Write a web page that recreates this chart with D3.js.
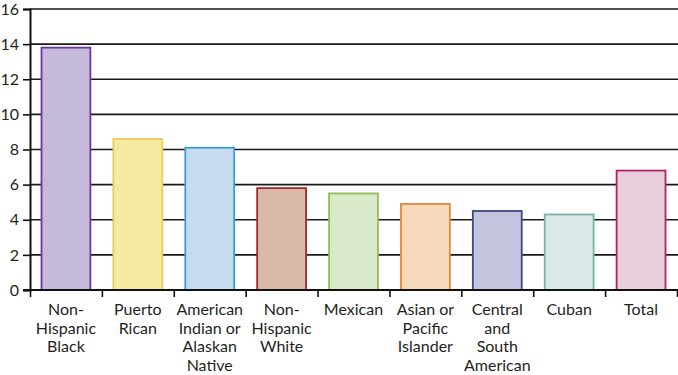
<!DOCTYPE html>
<html>
<head>
<meta charset="utf-8">
<script src="https://cdn.jsdelivr.net/npm/d3@7"></script>
<style>
  body { margin: 0; background: #fff; }
  text { font-family: Lato, "Liberation Sans", sans-serif; fill: #231f20; }
</style>
</head>
<body>
<div id="chart"></div>
<script>
// chart data
var categories = [
    "Non-\nHispanic\nBlack",
    "Puerto\nRican",
    "American\nIndian or\nAlaskan\nNative",
    "Non-\nHispanic\nWhite",
    "Mexican",
    "Asian or\nPacific\nIslander",
    "Central\nand\nSouth\nAmerican",
    "Cuban",
    "Total"
];
var values = [13.8, 8.6, 8.1, 5.8, 5.5, 4.9, 4.5, 4.3, 6.8];
var yTicks = [0, 2, 4, 6, 8, 10, 12, 14, 16];
var fills = ["#c5bad9", "#f5eaa2", "#c6daf0", "#d9b9a7", "#dbe9cb", "#f6d9bb", "#c5c4de", "#d8e9e8", "#e6cfda"];
var strokes = ["#7034a0", "#e9cd55", "#3a9fd0", "#a0282c", "#8ebf55", "#e08a3c", "#3d4a7e", "#7eb0aa", "#b0226a"];

var width = 678;
var height = 375;
var plot = { left: 30, right: 677, top: 9, bottom: 290 };

var svg = d3.select("#chart")
    .append("svg")
    .attr("width", width)
    .attr("height", height);

var x = d3.scaleBand()
    .domain(d3.range(categories.length))
    .range([plot.left, plot.right])
    .paddingInner(0.32)
    .paddingOuter(0.16);

var y = d3.scaleLinear().domain([0, 16]).range([plot.bottom, plot.top]);

// gridlines
svg.append("g")
    .selectAll("line")
    .data(yTicks.filter(function(d) { return d > 0; }))
    .enter()
    .append("line")
    .attr("x1", plot.left)
    .attr("x2", width)
    .attr("y1", function(d) { return y(d); })
    .attr("y2", function(d) { return y(d); })
    .attr("stroke", "#1a1a1a")
    .attr("stroke-width", 1.6);

// bars
svg.append("g")
    .selectAll("rect")
    .data(values)
    .enter()
    .append("rect")
    .attr("x", function(d, i) { return x(i); })
    .attr("y", function(d) { return y(d); })
    .attr("width", x.bandwidth())
    .attr("height", function(d) { return plot.bottom - y(d); })
    .attr("fill", function(d, i) { return fills[i]; })
    .attr("stroke", function(d, i) { return strokes[i]; })
    .attr("stroke-width", 1.8);

// y axis
var yAxis = d3.axisLeft(y).tickValues(yTicks).tickSize(7).tickPadding(4);
var gy = svg.append("g")
    .attr("transform", "translate(" + plot.left + ",0)")
    .call(yAxis);
gy.select(".domain").attr("stroke", "#111").attr("stroke-width", 2);
gy.selectAll(".tick line").attr("stroke", "#111").attr("stroke-width", 1.6);
gy.selectAll(".tick text")
    .attr("font-size", "16px")
    .attr("font-family", "Lato, sans-serif")
    .attr("fill", "#231f20");

// x axis: ticks at category boundaries
var xb = d3.scaleLinear().domain([0, categories.length]).range([plot.left, plot.right]);
var xAxis = d3.axisBottom(xb).ticks(categories.length).tickSize(7).tickFormat("");
var gx = svg.append("g")
    .attr("transform", "translate(0," + plot.bottom + ")")
    .call(xAxis);
gx.select(".domain").attr("stroke", "#111").attr("stroke-width", 2)
    .attr("d", "M" + (plot.left - 7) + ",0H" + width);
gx.selectAll(".tick line").attr("stroke", "#111").attr("stroke-width", 1.6);

// category labels
var labels = svg.append("g")
    .selectAll("text")
    .data(categories)
    .enter()
    .append("text")
    .attr("text-anchor", "middle")
    .attr("font-size", "16px")
    .attr("transform", function(d, i) {
        return "translate(" + (x(i) + x.bandwidth() / 2) + "," + 315 + ")";
    });

labels.selectAll("tspan")
    .data(function(d) { return d.split("\n"); })
    .enter()
    .append("tspan")
    .attr("x", 0)
    .attr("dy", function(d, i) { return i == 0 ? 0 : 18.5; })
    .text(function(d) { return d; });
</script>
</body>
</html>
